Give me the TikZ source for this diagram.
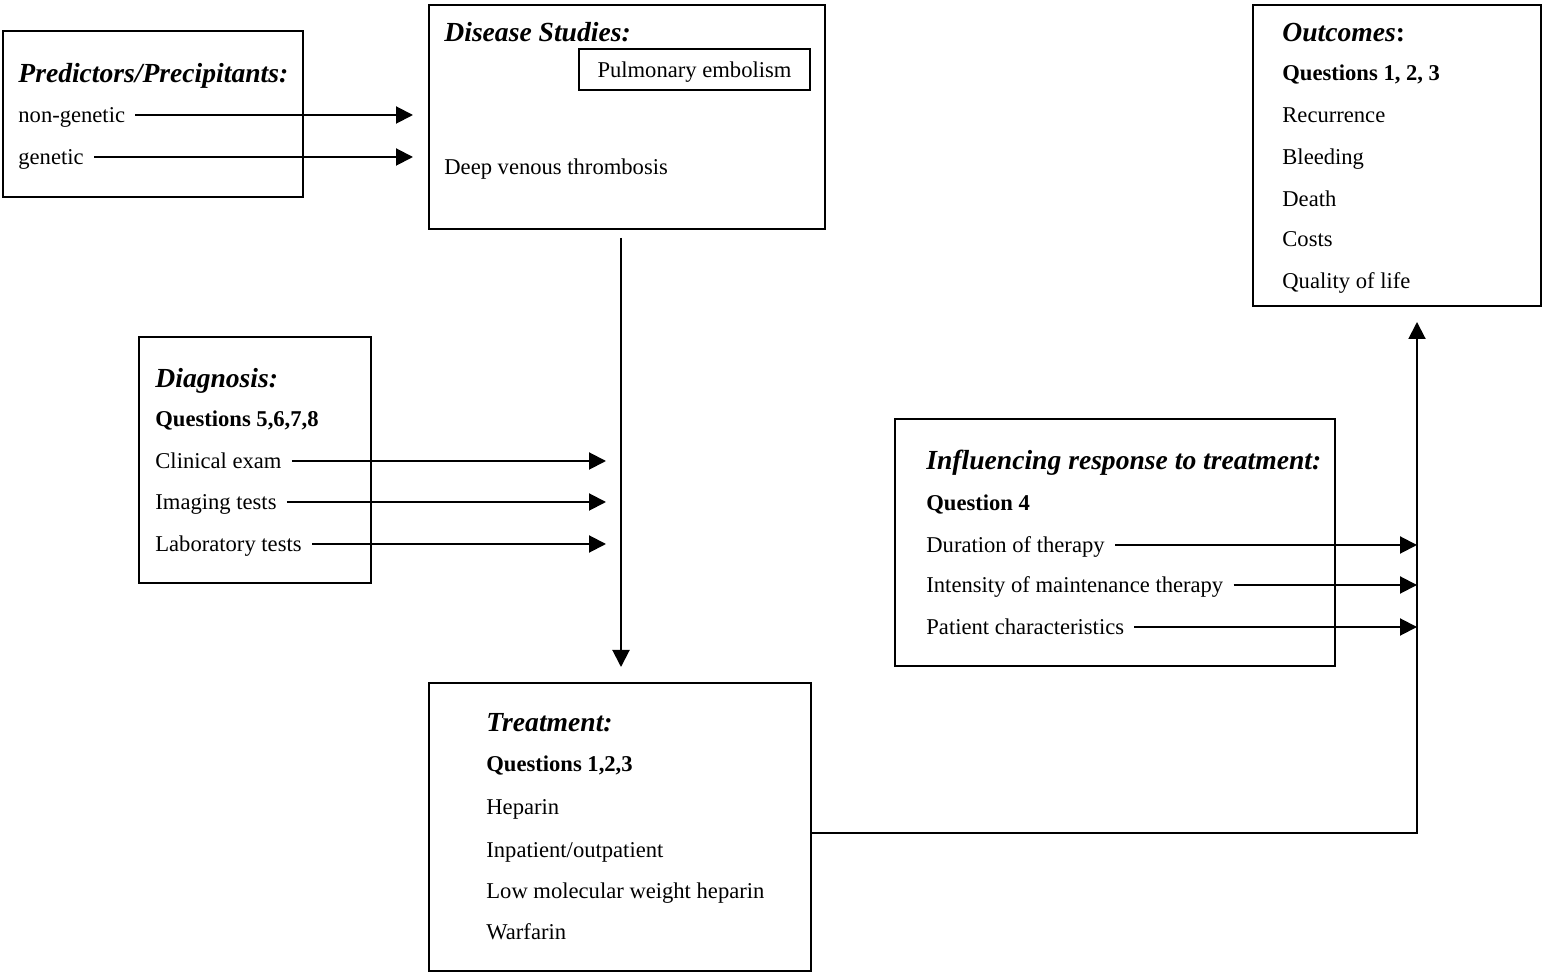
\documentclass[tikz,border=0pt]{standalone}
\usepackage{fontspec}
\setmainfont{Liberation Serif}
\usetikzlibrary{arrows.meta,positioning}
\tikzset{
  panel/.style={draw=black, line width=1pt, anchor=north west, inner sep=0pt},
  heading/.style={anchor=west, inner sep=0pt, yshift=-1.2pt, font=\fontsize{13.8}{16}\selectfont\bfseries\itshape},
  entry/.style={anchor=west, inner sep=0pt, font=\fontsize{11.3}{13}\selectfont, text height=10.5pt, text depth=2.5pt},
  arrow/.style={-{Triangle[length=8.5pt,width=8.5pt]}, line width=1pt, shorten <=5pt},
  link/.style={-{Triangle[length=8.5pt,width=8.5pt]}, line width=1pt}
}
\begin{document}
\begin{tikzpicture}[x=0.5pt, y=-0.5pt]
  \useasboundingbox (0,0) rectangle (1543,972);

  % boxes
  \node[panel, minimum width=150pt, minimum height=83pt] (pred) at (2,30) {};
  \node[panel, minimum width=198pt, minimum height=112pt] (disease) at (428,4) {};
  \node[panel, minimum width=115.5pt, minimum height=20.5pt, text height=10.5pt, text depth=2.5pt, font=\fontsize{11.3}{13}\selectfont] (pe) at (578,48) {Pulmonary embolism};
  \node[panel, minimum width=144pt, minimum height=150.5pt] (outcomes) at (1252,4) {};
  \node[panel, minimum width=116pt, minimum height=123pt] (diag) at (138,336) {};
  \node[panel, minimum width=220pt, minimum height=123.5pt] (infl) at (894,418) {};
  \node[panel, minimum width=191pt, minimum height=144pt] (treat) at (428,682) {};

  % predictors
  \node[heading] (predhead) at (18,73) {Predictors/Precipitants:};
  \node[entry] (nongen) at (18,115) {non-genetic};
  \node[entry] (gen) at (18,157) {genetic};

  % disease studies
  \node[heading] (dshead) at (444,30) {Disease Studies:};
  \node[entry] (dvt) at (444,167) {Deep venous thrombosis};

  % diagnosis
  \node[heading] (diaghead) at (155,378) {Diagnosis:};
  \node[entry, font=\fontsize{11.3}{13}\selectfont\bfseries] (diagq) at (155,419) {Questions 5,6,7,8};
  \node[entry] (clin) at (155,461) {Clinical exam};
  \node[entry] (img) at (155,502) {Imaging tests};
  \node[entry] (lab) at (155,544) {Laboratory tests};

  % treatment
  \node[heading] (trhead) at (486,720) {Treatment:};
  \node[entry, font=\fontsize{11.3}{13}\selectfont\bfseries] (trq) at (486,764) {Questions 1,2,3};
  \node[entry] (hep) at (486,806) {Heparin};
  \node[entry] (inpat) at (486,849) {Inpatient/outpatient};
  \node[entry] (lmwh) at (486,890) {Low molecular weight heparin};
  \node[entry] (warf) at (486,931) {Warfarin};

  % influencing response
  \node[heading] (inhead) at (926,460) {Influencing response to treatment:};
  \node[entry, font=\fontsize{11.3}{13}\selectfont\bfseries] (inq) at (926,503) {Question 4};
  \node[entry] (dur) at (926,545) {Duration of therapy};
  \node[entry] (inten) at (926,585) {Intensity of maintenance therapy};
  \node[entry] (pat) at (926,627) {Patient characteristics};

  % outcomes
  \node[heading] (outhead) at (1282,30) {Outcomes\upshape:};
  \node[entry, font=\fontsize{11.3}{13}\selectfont\bfseries] (outq) at (1282,73) {Questions 1, 2, 3};
  \node[entry] (recur) at (1282,115) {Recurrence};
  \node[entry] (bleed) at (1282,157) {Bleeding};
  \node[entry] (death) at (1282,199) {Death};
  \node[entry] (costs) at (1282,239) {Costs};
  \node[entry] (qol) at (1282,281) {Quality of life};

  % arrow ends
  \coordinate (dsleft) at (413,0);
  \coordinate (diagcol) at (606,0);
  \coordinate (dsfoot) at (621,238);
  \coordinate (trtop) at (621,667);
  \coordinate (outtip) at (1417,322);

  \draw[arrow] (nongen) -- (nongen -| dsleft);
  \draw[arrow] (gen) -- (gen -| dsleft);
  \draw[link] (dsfoot) -- (trtop);
  \draw[arrow] (clin) -- (clin -| diagcol);
  \draw[arrow] (img) -- (img -| diagcol);
  \draw[arrow] (lab) -- (lab -| diagcol);
  \draw[arrow] (dur) -- (dur -| outtip);
  \draw[arrow] (inten) -- (inten -| outtip);
  \draw[arrow] (pat) -- (pat -| outtip);
  \draw[link] ([yshift=-3pt]treat.east) -| (outtip);
\end{tikzpicture}
\end{document}
